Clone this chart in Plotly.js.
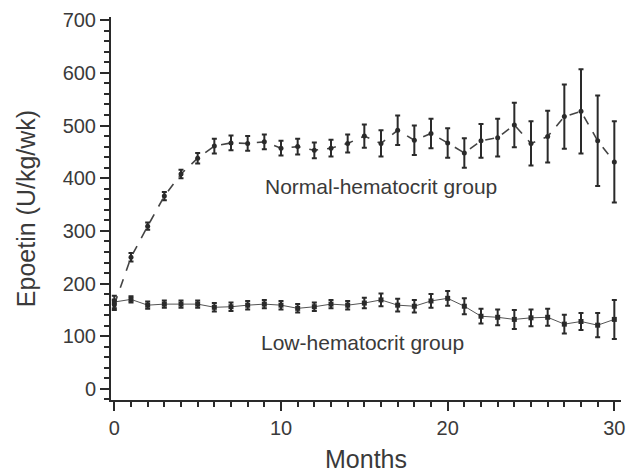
<!DOCTYPE html>
<html>
<head>
<meta charset="utf-8">
<script src="https://cdn.plot.ly/plotly-3.0.1.min.js"></script>
<style>html,body{margin:0;padding:0;background:#fff;}#chart{width:627px;height:475px;}</style>
</head>
<body>
<div id="chart"></div>
<script>
var months = [0,1,2,3,4,5,6,7,8,9,10,11,12,13,14,15,16,17,18,19,20,21,22,23,24,25,26,27,28,29,30];
var normalMean = [160,250,309,366,408,438,461,467,466,469,457,460,453,457,466,480,466,491,472,485,467,448,471,477,501,466,479,517,527,471,431];
var normalErr  = [10,8,7,8,8,10,14,14,14,14,14,15,15,16,17,22,25,28,28,28,28,28,32,36,42,42,49,61,80,86,77];
var lowMean = [165,170,159,161,161,161,155,156,159,161,159,153,156,161,159,163,169,159,157,167,172,157,138,136,132,135,136,123,128,121,132];
var lowErr  = [12,6,7,7,7,7,8,8,8,8,8,8,8,8,8,10,12,12,12,13,14,15,14,15,18,16,16,18,16,23,37];
var xTickStep = 10, xMinorStep = 1;
var yTickStep = 100, yMinorStep = 20;
var xRange = [-0.2, 30.4];
var yRange = [-21, 706];

var ink = '#2a2a2a';
var textCol = '#3a3a3a';
var traces = [
  {x: months, y: normalMean, type: 'scatter', mode: 'lines+markers', name: 'Normal-hematocrit group',
   line: {color: '#444', width: 1.6, dash: 'dash'},
   marker: {color: ink, size: 5},
   error_y: {type: 'data', array: normalErr, visible: true, color: ink, thickness: 2, width: 2.5}},
  {x: months, y: lowMean, type: 'scatter', mode: 'lines+markers', name: 'Low-hematocrit group',
   line: {color: '#555', width: 1},
   marker: {color: ink, size: 5, symbol: 'square'},
   error_y: {type: 'data', array: lowErr, visible: true, color: ink, thickness: 2, width: 2.5}}
];

var layout = {
  width: 627, height: 475,
  margin: {l: 111, r: 6, t: 17, b: 75},
  paper_bgcolor: '#fff', plot_bgcolor: '#fff',
  showlegend: false,
  font: {family: 'Liberation Sans, Arial, sans-serif', color: textCol, size: 20},
  xaxis: {
    range: xRange, tick0: 0, dtick: xTickStep,
    ticks: 'outside', ticklen: 9, tickwidth: 2, tickcolor: ink,
    showline: true, linecolor: ink, linewidth: 2, showgrid: false, zeroline: false,
    minor: {ticks: 'outside', ticklen: 5, tickwidth: 2, tickcolor: ink, dtick: xMinorStep, showgrid: false},
    tickfont: {size: 20, color: textCol},
    automargin: false,
    title: {text: 'Months', font: {size: 25, color: textCol}, standoff: 12}
  },
  yaxis: {
    range: yRange, tick0: 0, dtick: yTickStep,
    ticks: 'outside', ticklen: 9, tickwidth: 2, tickcolor: ink,
    showline: true, linecolor: ink, linewidth: 2, showgrid: false, zeroline: false,
    minor: {ticks: 'outside', ticklen: 5, tickwidth: 2, tickcolor: ink, dtick: yMinorStep, showgrid: false},
    tickfont: {size: 20, color: textCol},
    automargin: false,
    title: {text: 'Epoetin (U/kg/wk)', font: {size: 25, color: textCol}, standoff: 20}
  },
  annotations: [
    {x: 16, y: 384, xref: 'x', yref: 'y', text: 'Normal-hematocrit group', showarrow: false,
     font: {size: 21, color: textCol}},
    {x: 14.9, y: 89, xref: 'x', yref: 'y', text: 'Low-hematocrit group', showarrow: false,
     font: {size: 21, color: textCol}}
  ]
};

Plotly.newPlot('chart', traces, layout, {displayModeBar: false, staticPlot: true});
</script>
</body>
</html>
